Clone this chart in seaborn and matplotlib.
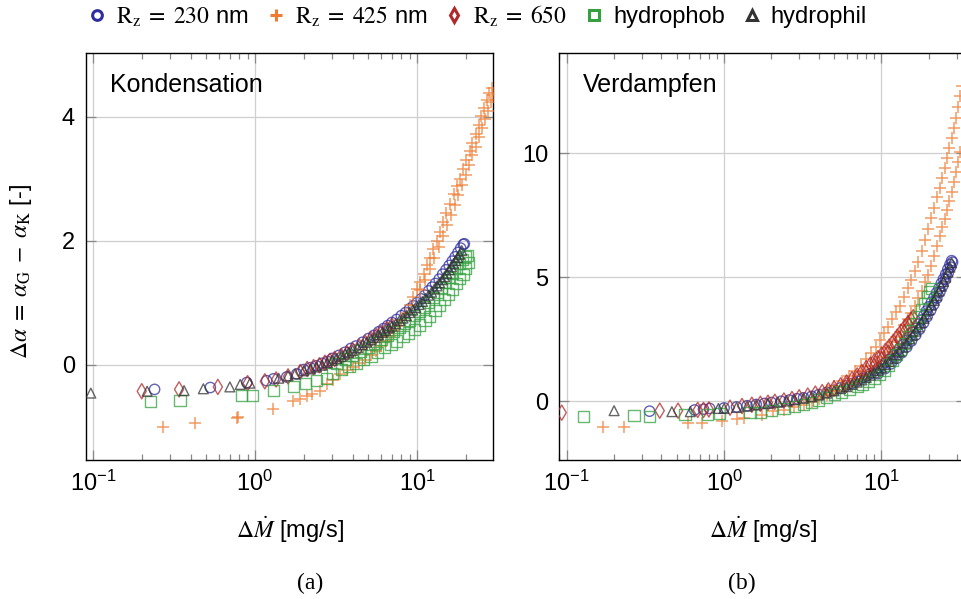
import matplotlib
matplotlib.use("Agg")
import matplotlib.pyplot as plt
import numpy as np
import pandas as pd
import seaborn as sns
from matplotlib.lines import Line2D
from matplotlib.ticker import LogLocator, NullFormatter

# ---------------- data ----------------
# Panel (a) Kondensation
cond_rz230 = [(0.24,-0.40),(0.53,-0.37),(0.89,-0.29),(1.18,-0.26),(1.30,-0.23),(1.57,-0.20),(1.81,-0.15),
    (2.0,-0.08),(2.2,-0.05),(2.4,-0.02),(2.6,0.02),(2.8,0.05),(3.0,0.10),(3.3,0.15),(3.6,0.20),(3.9,0.26),
    (4.2,0.30),(4.6,0.36),(5.0,0.42),(5.4,0.47),(5.8,0.53),(6.2,0.58),(6.6,0.63),(7.0,0.68),(7.5,0.73),
    (8.0,0.79),(8.5,0.84),(9.0,0.90),(9.5,0.95),(10.0,1.00),(10.6,1.06),(11.2,1.12),(11.8,1.19),(12.4,1.25),
    (13.0,1.31),(13.7,1.38),(14.4,1.46),(15.1,1.53),(15.8,1.60),(16.5,1.67),(17.2,1.74),(17.9,1.81),
    (18.6,1.88),(19.3,1.94),(19.6,1.95)]
cond_rz425 = [(0.272,-1.01),(0.426,-0.95),(0.77,-0.86),(0.79,-0.85),(1.30,-0.71),(1.72,-0.58),(1.90,-0.55),
    (2.08,-0.50),(2.24,-0.47),(2.52,-0.42),(2.77,-0.31),(3.04,-0.25),(3.35,-0.15),(3.68,-0.09),(4.04,-0.04),
    (4.4,0.02),(4.8,0.08),(5.2,0.15),(5.6,0.22),(6.0,0.30),(6.4,0.38),(6.8,0.46),(7.2,0.55),(7.6,0.63),
    (8.0,0.72),(8.5,0.83),(9.0,0.97),(9.5,1.09),(10.0,1.22),(10.5,1.34),(11.0,1.47),(11.5,1.60),(12.0,1.72),
    (12.6,1.86),(13.2,2.00),(13.8,2.14),(14.5,2.30),(15.2,2.44),(16.0,2.60),(16.8,2.75),(17.6,2.88),
    (18.4,3.00),(19.3,3.15),(20.2,3.30),(21.1,3.45),(22.0,3.57),(23.0,3.72),(24.0,3.87),(25.0,4.02),
    (26.0,4.15),(27.0,4.27),(28.0,4.38),(29.0,4.46),
    (10.5,1.20),(11.2,1.36),(12.0,1.55),(12.8,1.72),(13.6,1.90),(14.4,2.07),(15.3,2.25),(16.2,2.42),
    (17.1,2.58),(18.0,2.74),(19.0,2.90),(20.0,3.06),(21.0,3.22),(22.0,3.38),(23.0,3.52),(24.1,3.67),
    (25.2,3.82),(26.3,3.97),(27.4,4.10),(28.5,4.24),(29.4,4.35)]
cond_rz650 = [(0.20,-0.43),(0.34,-0.40),(0.59,-0.36),(0.90,-0.30),(1.15,-0.27),(1.35,-0.24),(1.6,-0.19),
    (1.9,-0.12),(2.1,-0.07),(2.3,-0.04),(2.5,-0.01),(2.7,0.03),(2.9,0.06),(3.1,0.09),(3.4,0.14),(3.7,0.18),
    (4.0,0.23),(4.4,0.29),(4.8,0.35),(5.2,0.41),(5.6,0.46),(6.0,0.51),(6.5,0.57),(7.0,0.63)]
cond_hydrophob = [(0.227,-0.60),(0.344,-0.58),(0.83,-0.50),(0.97,-0.50),(1.30,-0.42),(1.72,-0.36),(2.04,-0.31),
    (2.40,-0.26),(2.77,-0.23),
    (3.2,0.02),(3.6,0.09),(4.0,0.15),(4.5,0.22),(5.0,0.28),(5.5,0.35),(6.0,0.40),(6.6,0.47),(7.2,0.53),
    (7.8,0.60),(8.4,0.66),(9.0,0.72),(9.7,0.79),(10.4,0.86),(11.1,0.93),(11.8,1.00),(12.6,1.08),(13.4,1.16),
    (14.2,1.24),(15.0,1.32),(15.8,1.40),(16.6,1.48),(17.4,1.56),(18.2,1.63),(19.0,1.70),(19.8,1.74),(20.6,1.76),
    (3.0,-0.14),(3.4,-0.08),(3.8,-0.03),(4.2,0.02),(4.7,0.08),(5.2,0.14),(5.7,0.20),(6.3,0.27),(6.9,0.33),
    (7.5,0.38),(8.2,0.45),(8.9,0.51),(9.6,0.57),(10.4,0.64),(11.2,0.71),(12.0,0.78),(12.9,0.87),(13.8,0.96),
    (14.7,1.05),(15.6,1.14),(16.5,1.22),(17.4,1.31),(18.3,1.39),(19.2,1.46),(20.0,1.55),(20.7,1.65)]
cond_hydrophil = [(0.097,-0.46),(0.216,-0.43),(0.365,-0.42),(0.48,-0.39),(0.70,-0.36),(0.81,-0.32),(0.93,-0.30),
    (1.4,-0.22),(1.6,-0.18),(1.77,-0.15),(2.0,-0.10),(2.2,-0.07),(2.4,-0.04),(2.6,-0.01),(2.8,0.03),(3.0,0.07),
    (3.2,0.10),(3.4,0.13),(3.6,0.17),(3.8,0.20),(4.0,0.23),(4.3,0.27),(4.6,0.32),(4.9,0.36),(5.2,0.40),
    (5.5,0.44),(5.8,0.48),(6.1,0.52),(6.4,0.55),(6.7,0.59),(7.0,0.62),(7.4,0.66),(7.8,0.71),(8.2,0.75),
    (8.6,0.79),(9.0,0.84),(9.4,0.88),(9.8,0.92),(10.3,0.97),(10.8,1.02),(11.3,1.07),(11.8,1.12),(12.3,1.17),
    (12.8,1.22),(13.3,1.27),(13.8,1.32),(14.3,1.37),(14.8,1.42),(15.3,1.47),(15.8,1.53),(16.3,1.58),
    (16.8,1.63),(17.3,1.68),(17.8,1.73),(18.3,1.78),(18.9,1.84)]

# Panel (b) Verdampfen
evap_rz230 = [(0.336,-0.41),(0.65,-0.36),(0.74,-0.33),(0.81,-0.30),(1.0,-0.28),(1.2,-0.24),(1.4,-0.19),
    (1.6,-0.14),(1.8,-0.10),(2.0,-0.06),(2.3,-0.01),(2.6,0.04),(2.9,0.09),(3.2,0.13),(3.6,0.19),(4.0,0.26),
    (4.5,0.35),(5.0,0.44),(5.5,0.53),(6.0,0.62),(6.5,0.71),(7.0,0.80),(7.5,0.90),(8.0,1.00),(8.5,1.10),
    (9.0,1.20),(9.5,1.31),(10.0,1.42),(10.6,1.55),(11.2,1.68),(11.8,1.82),(12.4,1.96),(13.0,2.10),(13.7,2.27),
    (14.4,2.44),(15.1,2.60),(15.8,2.77),(16.5,2.93),(17.2,3.10),(17.9,3.27),(18.6,3.45),(19.3,3.63),
    (20.0,3.80),(20.8,3.99),(21.6,4.18),(22.4,4.37),(23.2,4.55),(24.0,4.75),(24.8,4.93),(25.6,5.12),
    (26.4,5.32),(27.2,5.50),(27.9,5.66),
    (9.5,1.10),(10.5,1.30),(11.5,1.50),(12.5,1.72),(13.5,1.95),(14.5,2.18),(15.5,2.42),(16.5,2.66),
    (17.5,2.90),(18.5,3.15),(19.5,3.40),(20.5,3.65),(21.5,3.90),(22.5,4.15),(23.5,4.40),(24.5,4.65),
    (25.5,4.90),(26.5,5.15),(27.5,5.40),(28.3,5.60)]
evap_rz425 = [(0.171,-1.04),(0.232,-1.04),(0.593,-0.90),(0.72,-0.87),(0.97,-0.81),(1.2,-0.74),(1.33,-0.69),
    (1.73,-0.56),(2.06,-0.42),(2.4,-0.36),(2.8,-0.26),(3.2,-0.15),(3.6,-0.04),
    (4.5,0.45),(5.0,0.60),(5.6,0.80),(6.2,1.00),(6.8,1.20),(7.4,1.42),(8.0,1.68),(8.6,1.92),(9.2,2.18),
    (9.8,2.45),(10.4,2.75),(11.0,3.00),(11.7,3.30),(12.4,3.60),(13.1,3.85),(13.9,4.20),(14.7,4.55),
    (15.5,4.90),(16.3,5.25),(17.1,5.60),(18.0,6.05),(18.9,6.50),(19.8,6.95),(20.7,7.40),(21.6,7.80),
    (22.5,8.25),(23.4,8.60),(24.3,9.00),(25.2,9.40),(26.1,9.80),(27.0,10.20),(27.9,10.60),(28.8,11.00),
    (29.7,11.40),(30.6,11.85),(31.5,12.30),(32.3,12.70),
    (4.0,0.10),(4.5,0.25),(5.0,0.40),(5.6,0.55),(6.2,0.72),(6.8,0.88),(7.4,1.05),(8.0,1.22),(8.6,1.40),
    (9.2,1.58),(9.8,1.78),(10.4,1.98),(11.0,2.15),(11.7,2.38),(12.4,2.60),(13.1,2.80),(13.9,3.05),
    (14.7,3.30),(15.5,3.55),(16.3,3.85),(17.1,4.15),(18.0,4.45),(18.9,4.80),(19.8,5.10),(20.7,5.45),
    (21.6,5.85),(22.5,6.25),(23.4,6.65),(24.3,7.00),(25.2,7.35),(26.1,7.70),(27.0,8.05),(27.9,8.45),
    (28.8,8.85),(29.7,9.25),(30.6,9.65),(31.5,10.05)]
evap_rz650 = [(0.093,-0.47),(0.39,-0.39),(0.51,-0.39),(0.68,-0.36),(0.74,-0.36),(0.80,-0.34),(1.09,-0.27),
    (1.3,-0.20),(1.5,-0.15),(1.7,-0.11),(1.9,-0.07),(2.1,-0.03),(2.4,0.02),(2.7,0.08),(3.0,0.15),(3.4,0.22),
    (3.8,0.30),(4.2,0.36),(4.6,0.43),(5.0,0.52),(5.5,0.63),(6.0,0.75),(6.5,0.88),(7.0,1.03),(7.5,1.17),
    (8.0,1.33),(8.5,1.47),(9.0,1.60),(9.5,1.73),(10.0,1.87),(10.6,2.03),(11.2,2.20),(11.9,2.40),(12.6,2.60),
    (13.3,2.80),(14.0,2.98),(14.7,3.14),(15.4,3.28),(15.9,3.38),
    (6.0,0.65),(7.0,0.90),(8.0,1.15),(9.0,1.42),(10.0,1.68),(11.0,1.95),(12.0,2.20),(13.0,2.50),
    (14.0,2.78),(15.0,3.05)]
evap_hydrophob = [(0.128,-0.63),(0.268,-0.60),(0.334,-0.63),(0.565,-0.56),(0.78,-0.56),(0.94,-0.50),
    (1.46,-0.47),(1.7,-0.45),(2.0,-0.38),(2.4,-0.30),(2.8,-0.22),(3.2,-0.14),(3.6,-0.05),(4.0,0.04),
    (4.5,0.15),(5.0,0.25),(5.6,0.36),(6.3,0.47),(7.0,0.58),(7.6,0.68),(8.3,0.80),(9.0,0.93),(9.7,1.07),
    (10.4,1.25),(11.1,1.45),(11.8,1.65),(12.5,1.87),(13.2,2.08),(14.0,2.33),(14.8,2.58),(15.6,2.85),
    (16.4,3.12),(17.2,3.40),(18.0,3.68),(18.8,3.95),(19.6,4.20),(20.3,4.40),(20.8,4.54)]
evap_hydrophil = [(0.2,-0.39),(0.466,-0.43),(0.61,-0.43),(0.92,-0.30),(1.0,-0.30),(1.2,-0.26),(1.4,-0.21),
    (1.6,-0.16),(1.9,-0.10),(2.2,-0.05),(2.5,0.00),(2.8,0.05),(3.2,0.11),(3.6,0.17),(4.0,0.24),(4.5,0.32),
    (5.0,0.41),(5.5,0.50),(6.0,0.58),(6.5,0.67),(7.0,0.76),(7.5,0.85),(8.0,0.95),(8.5,1.04),(9.0,1.14),
    (9.5,1.24),(10.0,1.34),(10.6,1.47),(11.2,1.60),(11.8,1.73),(12.4,1.87),(13.0,2.00),(13.7,2.17),
    (14.4,2.33),(15.1,2.50),(15.8,2.66),(16.5,2.82),(17.2,2.99),(17.9,3.16),(18.6,3.33),(19.3,3.51),
    (20.0,3.68),(20.8,3.87),(21.6,4.06),(22.4,4.25),(23.2,4.44),(24.0,4.63),(24.8,4.82),(25.6,5.00),
    (26.4,5.20),(27.2,5.40),(27.9,5.58)]

legend_labels = [r"$\mathrm{R_z}\;=\;230$ nm", r"$\mathrm{R_z}\;=\;425$ nm", r"$\mathrm{R_z}\;=\;650$",
                 "hydrophob", "hydrophil"]
panel_titles = ["Kondensation", "Verdampfen"]
panel_captions = ["(a)", "(b)"]
yticks_a = [0, 2, 4]
yticks_b = [0, 5, 10]

# ---------------- style ----------------
sns.set_style("ticks")
plt.rcParams["font.family"] = ["Liberation Sans", "DejaVu Sans"]
plt.rcParams["mathtext.fontset"] = "stix"
plt.rcParams["text.color"] = "black"
plt.rcParams["axes.labelcolor"] = "black"
plt.rcParams["xtick.labelcolor"] = "black"
plt.rcParams["ytick.labelcolor"] = "black"

colors = ["#2e2ea0", "#f07a30", "#b02828", "#35a040", "#333333"]
markers = ["o", "+", "d", "s", "^"]
sizes = [55, 75, 60, 65, 50]

fig = plt.figure(figsize=(9.62, 5.99), dpi=100)
W, H = 962, 599
axA = fig.add_axes([86 / W, 1 - 460 / H, 407 / W, 407 / H])
axB = fig.add_axes([559.3 / W, 1 - 460 / H, (966 - 559.3) / W, 407 / H])

def draw(ax, series):
    for pts, c, m, s in zip(series, colors, markers, sizes):
        df = pd.DataFrame(pts, columns=["x", "y"])
        if m == "+":
            sns.scatterplot(data=df, x="x", y="y", ax=ax, marker=m, color=c, s=s,
                            linewidth=1.1, alpha=0.75, legend=False, zorder=3)
        else:
            sns.scatterplot(data=df, x="x", y="y", ax=ax, marker=m, facecolor="none",
                            edgecolor=c, s=s, linewidth=1.0, alpha=0.75, legend=False, zorder=3)

draw(axA, [cond_rz230, cond_rz425, cond_rz650, cond_hydrophob, cond_hydrophil])
draw(axB, [evap_rz230, evap_rz425, evap_rz650, evap_hydrophob, evap_hydrophil])

for ax, xl, yl, yt, title in [
        (axA, (10 ** -1.043, 10 ** 1.469), (-1.54, 5.03), yticks_a, panel_titles[0]),
        (axB, (10 ** -1.047, 10 ** 1.537), (-2.38, 14.04), yticks_b, panel_titles[1])]:
    ax.set_xscale("log")
    ax.set_xlim(*xl)
    ax.set_ylim(*yl)
    ax.set_yticks(yt)
    ax.xaxis.set_major_locator(LogLocator(base=10, numticks=10))
    ax.xaxis.set_minor_locator(LogLocator(base=10, subs=np.arange(2, 10), numticks=20))
    ax.xaxis.set_minor_formatter(NullFormatter())
    ax.grid(True, which="major", color="#cfcfcf", lw=0.9, zorder=0)
    ax.set_axisbelow(True)
    ax.tick_params(which="both", direction="in", top=True, right=True, color="#888888",
                   width=0.9, labelcolor="black")
    ax.tick_params(which="major", length=7, labelsize=17, pad=8)
    ax.tick_params(which="minor", length=4)
    for sp in ax.spines.values():
        sp.set_color("black")
        sp.set_linewidth(1.0)
    ax.set_xlabel(r"$\Delta\dot{M}$ [mg/s]", fontsize=17)
    ax.xaxis.set_label_coords(0.5, -0.135)
    ax.set_ylabel("")
    ax.text(0.058, 0.921, title, transform=ax.transAxes, fontsize=18, va="center", ha="left")

axA.set_ylabel(r"$\Delta\alpha\;=\;\alpha_\mathrm{G}\;-\;\alpha_\mathrm{K}$ [-]", fontsize=17)
axA.yaxis.set_label_coords(-0.128, 0.464)

fig.text(310 / W, 1 - 583 / H, panel_captions[0], ha="center", va="center",
         fontsize=17, family=["Liberation Serif", "DejaVu Serif"])
fig.text(742 / W, 1 - 583 / H, panel_captions[1], ha="center", va="center",
         fontsize=17, family=["Liberation Serif", "DejaVu Serif"])

handles = []
for c, m in zip(colors, markers):
    if m == "+":
        handles.append(Line2D([], [], ls="", marker=m, color=c, ms=8, mew=2.2))
    else:
        handles.append(Line2D([], [], ls="", marker=m, mfc="none", mec=c, ms=7, mew=2.2))
fig.legend(handles, legend_labels, loc="center", bbox_to_anchor=(0.495, 1 - 16 / H), ncol=5,
           frameon=False, fontsize=17, handletextpad=0.3, columnspacing=0.65, handlelength=1.0,
           borderaxespad=0)

fig.savefig("out.png", dpi=100)
